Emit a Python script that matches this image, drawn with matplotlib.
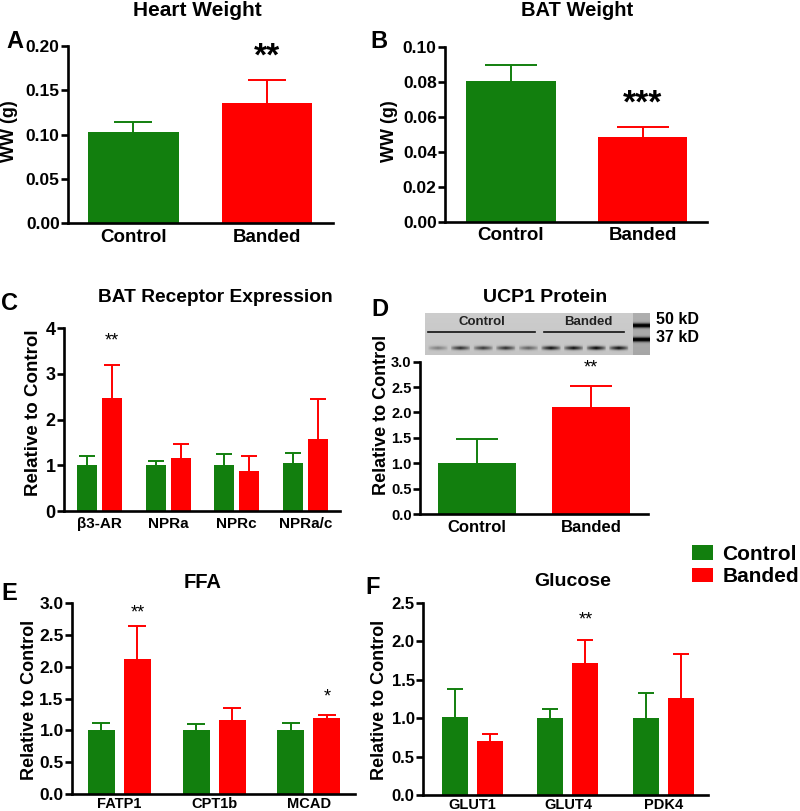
import numpy as np
import matplotlib
matplotlib.use("Agg")
import matplotlib.pyplot as plt
from matplotlib.patches import Patch

plt.rcParams['font.family'] = ['Liberation Sans', 'DejaVu Sans']

GREEN = '#127f0e'
RED = '#ff0000'

# ---------------- data ----------------
two_groups = ['Control', 'Banded']
heart_mean = [0.103, 0.136]
heart_sem = [0.0115, 0.026]
bat_mean = [0.0806, 0.0486]
bat_sem = [0.009, 0.0055]

receptor_labels = ['β3-AR', 'NPRa', 'NPRc', 'NPRa/c']
receptor_ctrl = [1.0, 1.0, 1.0, 1.04]
receptor_ctrl_sem = [0.20, 0.09, 0.25, 0.22]
receptor_band = [2.47, 1.17, 0.875, 1.57]
receptor_band_sem = [0.73, 0.30, 0.335, 0.88]

ucp1_mean = [1.0, 2.10]
ucp1_sem = [0.47, 0.42]
blot_band_intensity = [0.35, 0.75, 0.70, 0.75, 0.50, 0.90, 0.90, 0.95, 0.90]

ffa_labels = ['FATP1', 'CPT1b', 'MCAD']
ffa_ctrl = [1.0, 1.0, 1.0]
ffa_ctrl_sem = [0.12, 0.10, 0.12]
ffa_band = [2.12, 1.16, 1.19]
ffa_band_sem = [0.53, 0.20, 0.06]

glu_labels = ['GLUT1', 'GLUT4', 'PDK4']
glu_ctrl = [1.01, 1.0, 1.0]
glu_ctrl_sem = [0.37, 0.12, 0.33]
glu_band = [0.70, 1.72, 1.26]
glu_band_sem = [0.10, 0.30, 0.58]

W, H = 800, 811
fig = plt.figure(figsize=(W / 100, H / 100), dpi=100)


def px_axes(x0, x1, ytop, ybot):
    return fig.add_axes([x0 / W, 1 - ybot / H, (x1 - x0) / W, (ybot - ytop) / H])


def fig_text(x, y, s, **kw):
    fig.text(x / W, 1 - y / H, s, **kw)


def style(ax, yticks, fmt, tick_fs, xtick_fs, xlim, xpad=4):
    for s in ['top', 'right']:
        ax.spines[s].set_visible(False)
    for s in ['left', 'bottom']:
        ax.spines[s].set_linewidth(1.9)
    ax.set_yticks(yticks)
    ax.set_yticklabels([fmt.format(v) for v in yticks], fontsize=tick_fs, fontweight='bold')
    ax.set_ylim(yticks[0], yticks[-1])
    ax.tick_params(axis='y', length=5, width=1.9, pad=1)
    ax.tick_params(axis='x', length=0, pad=xpad, labelsize=xtick_fs)
    ax.set_xlim(*xlim)
    for t in ax.get_xticklabels():
        t.set_fontweight('bold')


def up_err(ax, x, y, e, color, capsize):
    n = np.size(x)
    _, caps, _ = ax.errorbar(x, y, yerr=[np.zeros(n), np.atleast_1d(e)], fmt='none',
                             ecolor=color, elinewidth=1.4, capsize=capsize,
                             capthick=1.4, zorder=1)
    if len(caps) == 2:
        caps[0].set_visible(False)


def two_bar(ax, means, sems, width, capsize):
    x = np.arange(len(means))
    for i in range(len(means)):
        c = GREEN if i == 0 else RED
        ax.bar(x[i], means[i], width=width, color=c, zorder=2)
        up_err(ax, [x[i]], [means[i]], [sems[i]], c, capsize)
    ax.set_xticks(x)
    return x


def grouped(ax, labels, c, cs, b, bs, width, off, capsize):
    x = np.arange(len(labels))
    ax.bar(x - off, c, width=width, color=GREEN, zorder=2)
    up_err(ax, x - off, c, cs, GREEN, capsize)
    ax.bar(x + off, b, width=width, color=RED, zorder=2)
    up_err(ax, x + off, b, bs, RED, capsize)
    ax.set_xticks(x)
    ax.set_xticklabels(labels)
    return x


# ---------------- A ----------------
axA = px_axes(68, 333, 46, 223)
two_bar(axA, heart_mean, heart_sem, 0.68, 14)
axA.set_xticklabels(two_groups)
style(axA, [0, 0.05, 0.10, 0.15, 0.20], '{:.2f}', 12.5, 13.5, (-0.49, 1.494))
axA.text(1, 0.188, '**', ha='center', va='center', fontsize=24, fontweight='bold')

# ---------------- B ----------------
axB = px_axes(445, 707, 46.7, 221.7)
two_bar(axB, bat_mean, bat_sem, 0.68, 19)
axB.set_xticklabels(two_groups)
style(axB, [0, 0.02, 0.04, 0.06, 0.08, 0.10], '{:.2f}', 12.5, 13.5, (-0.502, 1.49))
axB.text(1, 0.0675, '***', ha='center', va='center', fontsize=24, fontweight='bold')

# ---------------- C ----------------
axC = px_axes(64, 340, 328.3, 511)
xc = grouped(axC, receptor_labels, receptor_ctrl, receptor_ctrl_sem,
             receptor_band, receptor_band_sem, 0.29, 0.182, 5.5)
style(axC, [0, 1, 2, 3, 4], '{:d}', 13, 11, (-0.517, 3.506))
axC.text(xc[0] + 0.182, 3.72, '**', ha='center', va='center', fontsize=13)

# ---------------- D ----------------
axD = px_axes(420, 648, 361.7, 514)
two_bar(axD, ucp1_mean, ucp1_sem, 0.684, 15)
axD.set_xticklabels(two_groups)
style(axD, [0, 0.5, 1.0, 1.5, 2.0, 2.5, 3.0], '{:.1f}', 10.5, 12, (-0.5, 1.5))
axD.text(1, 2.87, '**', ha='center', va='center', fontsize=13)

# western blot inset
bx0, bx1, by0, by1 = 425, 650, 313, 355
bw, bh = bx1 - bx0, by1 - by0
img = np.full((bh, bw), 0.80)
yy, xx = np.mgrid[0:bh, 0:bw]
img -= 0.03 * (yy / bh)
lane_w = 15
for i, inten in enumerate(blot_band_intensity):
    cx = 12.5 + i * 22.6
    band = np.exp(-((yy - 34.5) / 2.0) ** 2) * np.clip(1 - np.abs(xx - cx) / (lane_w * 0.65), 0, 1) ** 0.5
    img -= 0.78 * inten * band
marker = (xx >= 208) & (xx <= 224)
img[marker] -= 0.12
for my in (12, 26):
    mb = np.exp(-((yy - my) / 2.3) ** 2) * marker
    img -= 0.75 * mb
img = np.clip(img, 0, 1)
axBlot = px_axes(bx0, bx1, by0, by1)
axBlot.imshow(img, cmap='gray', vmin=0, vmax=1, aspect='auto', interpolation='bilinear')
axBlot.axis('off')
fig_text(482, 322, 'Control', ha='center', va='center', fontsize=9.5, fontweight='bold', color='#222222')
fig_text(588, 322, 'Banded', ha='center', va='center', fontsize=9.5, fontweight='bold', color='#222222')
fig.add_artist(plt.Line2D([428 / W, 535 / W], [1 - 332 / H, 1 - 332 / H], color='#111111', lw=1.2))
fig.add_artist(plt.Line2D([544 / W, 624 / W], [1 - 332 / H, 1 - 332 / H], color='#111111', lw=1.2))
fig_text(656, 320, '50 kD', ha='left', va='center', fontsize=11.5, fontweight='bold')
fig_text(656, 338, '37 kD', ha='left', va='center', fontsize=11.5, fontweight='bold')

# ---------------- E ----------------
axE = px_axes(72, 355, 603.3, 794)
xe = grouped(axE, ffa_labels, ffa_ctrl, ffa_ctrl_sem, ffa_band, ffa_band_sem, 0.285, 0.19, 6.5)
style(axE, [0, 0.5, 1.0, 1.5, 2.0, 2.5, 3.0], '{:.1f}', 12.5, 10.5, (-0.501, 2.486), xpad=2)
axE.text(xe[0] + 0.19, 2.84, '**', ha='center', va='center', fontsize=13)
axE.text(xe[2] + 0.19, 1.52, '*', ha='center', va='center', fontsize=13)

# ---------------- F ----------------
axF = px_axes(423, 708, 603, 795)
xf = grouped(axF, glu_labels, glu_ctrl, glu_ctrl_sem, glu_band, glu_band_sem, 0.273, 0.184, 5.5)
style(axF, [0, 0.5, 1.0, 1.5, 2.0, 2.5], '{:.1f}', 12, 10.5, (-0.52, 2.47), xpad=2)
axF.text(xf[1] + 0.184, 2.28, '**', ha='center', va='center', fontsize=13)

# ---------------- titles, labels ----------------
tkw = dict(ha='center', va='center', fontweight='bold')
fig_text(197, 11, 'Heart Weight', fontsize=15, **tkw)
fig_text(577, 11, 'BAT Weight', fontsize=14.5, **tkw)
fig_text(215, 297, 'BAT Receptor Expression', fontsize=13.8, **tkw)
fig_text(545, 297, 'UCP1 Protein', fontsize=14, **tkw)
fig_text(203, 583, 'FFA', fontsize=14.5, **tkw)
fig_text(573, 582, 'Glucose', fontsize=14, **tkw)

lkw = dict(ha='center', va='center', fontsize=17, fontweight='bold')
fig_text(15, 41, 'A', **lkw)
fig_text(379, 41, 'B', **lkw)
fig_text(10, 304, 'C', **lkw)
fig_text(380, 310, 'D', **lkw)
fig_text(9, 594, 'E', **lkw)
fig_text(373, 587, 'F', **lkw)

ykw = dict(ha='center', va='center', rotation=90, fontweight='bold')
fig_text(10, 131, 'WW (g)', fontsize=13, **ykw)
fig_text(390, 131, 'WW (g)', fontsize=13, **ykw)
fig_text(34, 413, 'Relative to Control', fontsize=13.5, **ykw)
fig_text(381, 415, 'Relative to Control', fontsize=13, **ykw)
fig_text(30, 700, 'Relative to Control', fontsize=13, **ykw)
fig_text(380, 700, 'Relative to Control', fontsize=13, **ykw)

# legend
handles = [Patch(facecolor=GREEN, edgecolor='none'), Patch(facecolor=RED, edgecolor='none')]
fig.legend(handles, two_groups, loc='upper left', bbox_to_anchor=(692 / W, 1 - 545 / H),
           frameon=False, handlelength=1.0, handleheight=0.7,
           handletextpad=0.45, labelspacing=0.15, borderaxespad=0, borderpad=0,
           prop={'weight': 'bold', 'size': 15})

fig.savefig('out.png', dpi=100)
